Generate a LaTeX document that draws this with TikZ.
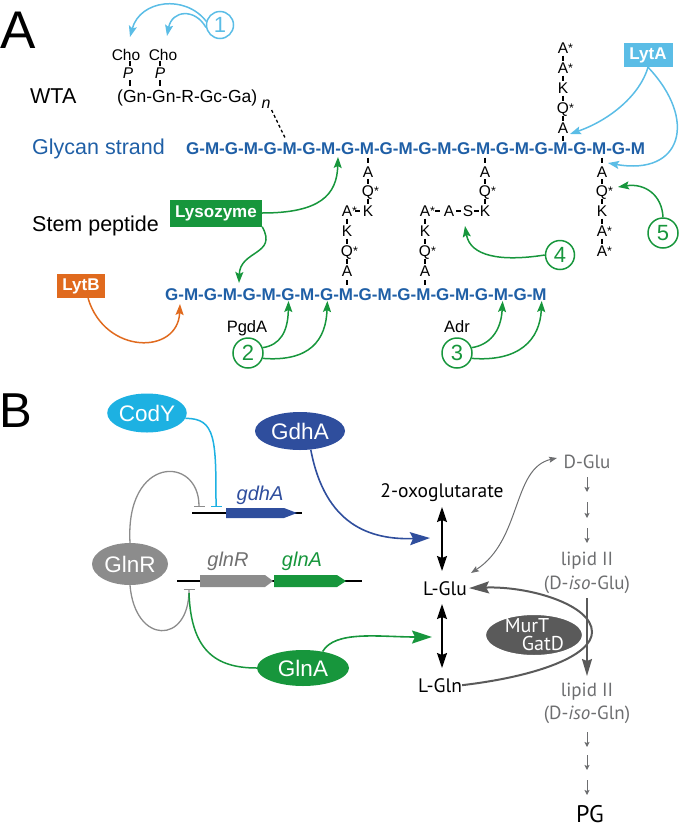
\documentclass[tikz,border=0pt]{standalone}
\usepackage{fontspec}
\setmainfont{Liberation Sans}
\newfontfamily\ptsans{PT Sans}
\usetikzlibrary{arrows.meta,calc,shapes.geometric}
\definecolor{cLB}{HTML}{5BBDE6}
\definecolor{cG}{HTML}{17963C}
\definecolor{cOr}{HTML}{E06A1E}
\definecolor{cBl}{HTML}{1F5FA6}
\definecolor{cCy}{HTML}{1DB1E2}
\definecolor{cDB}{HTML}{2F4E9D}
\definecolor{cGr}{HTML}{8C8C8C}
\definecolor{cGt}{HTML}{707070}
\definecolor{cDG}{HTML}{5A5A5A}
\definecolor{cTx}{HTML}{6D6E70}
\newcommand\rs[1]{#1\rlap{\fontsize{12.5}{12.5}\selectfont\raisebox{1pt}{*}}}
\newcommand\pepV[2]{\draw[tick] ($(#1)!0.5!(#2)$) ++(0,-2.5) -- ++(0,5);}
\newcommand\pepH[2]{\draw[tick] ($(#1)!0.5!(#2)$) ++(-2.5,0) -- ++(5,0);}
\begin{document}
\begin{tikzpicture}[x=1pt,y=-1pt,
  gly/.style={font=\fontsize{17}{17}\selectfont\bfseries, text=cBl, inner sep=0pt, text height=12.2pt, text depth=0pt},
  res/.style={font=\fontsize{15.5}{15.5}\selectfont, inner sep=0pt, text height=11.1pt, text depth=0pt},
  tick/.style={line width=1.3pt},
  arr/.style={line width=1.5pt, -{Stealth[length=11pt,width=8pt,inset=2pt]}},
  num/.style={circle, draw, line width=1.5pt, minimum size=30pt, inner sep=0pt, font=\fontsize{22}{22}\selectfont},
  enz/.style={font=\fontsize{17}{17}\selectfont\bfseries, text=white, inner sep=0pt, minimum height=24pt},
  lab/.style={font=\fontsize{21.5}{21.5}\selectfont, inner sep=0pt, anchor=base west},
  ell/.style={ellipse, inner sep=0pt, text=white, font=\fontsize{22.5}{22.5}\selectfont},
  gn/.style={font=\fontsize{20}{20}\selectfont\itshape, inner sep=0pt, anchor=base},
  mt/.style={font=\ptsans\fontsize{19.5}{19.5}\selectfont, inner sep=0pt, anchor=base},
  gt/.style={font=\ptsans\fontsize{19}{19}\selectfont, text=cTx, inner sep=0pt, anchor=base},
  bigarr/.style={line width=1.6pt, -{Stealth[length=20pt,width=13pt,inset=3pt]}},
  dbl/.style={line width=1.6pt, {Stealth[length=15pt,width=10pt,inset=2pt]}-{Stealth[length=15pt,width=10pt,inset=2pt]}},
  sarr/.style={line width=1pt, cTx, -{Stealth[length=5pt,width=5pt,inset=1pt]}},
  bar/.style={-{Bar[width=11pt,line width=1.4pt]}}
]
\useasboundingbox (0,0) rectangle (679,828);

% ---------------- Panel letters
\node[anchor=base west, inner sep=0pt, font=\fontsize{53}{53}\selectfont] (pA) at (0,48) {A};
\node[anchor=base west, inner sep=0pt, font=\fontsize{49}{49}\selectfont] (pB) at (-1,427) {B};

% ---------------- Labels
\node[lab] (lwta) at (30,103) {WTA};
\node[lab, text=cBl] (lgly) at (32,154) {Glycan strand};
\node[lab] (lstem) at (32,231) {Stem peptide};

% ---------------- WTA
\node[inner sep=0pt, anchor=base, font=\fontsize{15.5}{15.5}\selectfont] (cho1) at (126,60) {Cho};
\node[inner sep=0pt, anchor=base, font=\fontsize{15.5}{15.5}\selectfont] (cho2) at (163,60) {Cho};
\node[inner sep=0pt, anchor=base, font=\fontsize{15.5}{15.5}\selectfont\itshape] (p1) at (128,78) {P};
\node[inner sep=0pt, anchor=base, font=\fontsize{15.5}{15.5}\selectfont\itshape] (p2) at (160,78) {P};
\node[inner sep=0pt, anchor=base west, font=\fontsize{17.5}{17.5}\selectfont] (wta) at (117,102) {(Gn-Gn-R-Gc-Ga)};
\node[inner sep=0pt, anchor=base west, font=\fontsize{16}{16}\selectfont\itshape] (wn) at ($(wta.base east)+(4,6)$) {n};
\draw[tick] (p1.base) ++(2,-12) -- ++(0,-5);
\draw[tick] (p1.base) ++(2,2) -- ++(0,6);
\draw[tick] (p2.base) ++(0,-12) -- ++(0,-5);
\draw[tick] (p2.base) ++(0,2) -- ++(0,6);

% ---------------- Glycan strands
\node[gly, anchor=west] (tstrand) at (186,148) {G-M-G-M-G-M-G-M-G-M-G-M-G-M-G-M-G-M-G-M-G-M-G-M};
\node[gly, anchor=west] (bstrand) at (165,294) {G-M-G-M-G-M-G-M-G-M-G-M-G-M-G-M-G-M-G-M};
\foreach \k in {1,...,12}{
  \coordinate (tM\k) at ($(tstrand.west)+(26+\k*39-39,0)$);
}
\foreach \k in {1,...,10}{
  \coordinate (bM\k) at ($(bstrand.west)+(26+\k*39-39,0)$);
  \coordinate (bG\k) at ($(bstrand.west)+(6.6+\k*39-39,0)$);
}
\draw[line width=1.3pt, dash pattern=on 3pt off 2.5pt, shorten <=2pt, shorten >=10pt] (wn.south east) -- (tM3);

% ---------------- Peptides
% chain a
\node[res] (a1) at (368,172) {A};
\node[res] (a2) at (368,191) {\rs{Q}};
\node[res] (a3) at (368,211) {K};
\node[res] (a4) at (347,211) {\rs{A}};
\node[res] (a5) at (347,231) {K};
\node[res] (a6) at (347,251) {\rs{Q}};
\node[res] (a7) at (347,271) {A};
\pepV{tM5}{a1}\pepV{a1}{a2}\pepV{a2}{a3}\pepH{a4}{a3}
\pepV{a4}{a5}\pepV{a5}{a6}\pepV{a6}{a7}\pepV{a7}{bM5}
% chain b
\node[res] (b1) at (485,172) {A};
\node[res] (b2) at (485,191) {\rs{Q}};
\node[res] (b3) at (485,211) {K};
\node[res] (b4) at (468,211) {S};
\node[res] (b5) at (449,211) {A};
\node[res] (b6) at (425,211) {\rs{A}};
\node[res] (b7) at (425,231) {K};
\node[res] (b8) at (425,251) {\rs{Q}};
\node[res] (b9) at (425,271) {A};
\pepV{tM8}{b1}\pepV{b1}{b2}\pepV{b2}{b3}\pepH{b4}{b3}\pepH{b5}{b4}\pepH{b6}{b5}
\pepV{b6}{b7}\pepV{b7}{b8}\pepV{b8}{b9}\pepV{b9}{bM7}
% chain c
\node[res] (c1) at (602,172) {A};
\node[res] (c2) at (602,191) {\rs{Q}};
\node[res] (c3) at (602,211) {K};
\node[res] (c4) at (602,231) {\rs{A}};
\node[res] (c5) at (602,251) {\rs{A}};
\pepV{tM11}{c1}\pepV{c1}{c2}\pepV{c2}{c3}\pepV{c3}{c4}\pepV{c4}{c5}
% chain d
\node[res] (d1) at (563,128) {A};
\node[res] (d2) at (563,108) {\rs{Q}};
\node[res] (d3) at (563,88) {K};
\node[res] (d4) at (563,68) {\rs{A}};
\node[res] (d5) at (563,48) {\rs{A}};
\pepV{tM10}{d1}\pepV{d1}{d2}\pepV{d2}{d3}\pepV{d3}{d4}\pepV{d4}{d5}

% ---------------- Enzymes and numbers
\node[enz, fill=cG, minimum width=92pt, minimum height=27pt] (lys) at (216,213) {Lysozyme};
\node[enz, fill=cLB, minimum width=49pt] (lyta) at (648,55) {LytA};
\node[enz, fill=cOr, minimum width=48pt] (lytb) at (81,286) {LytB};
\node[inner sep=0pt, anchor=base, font=\fontsize{16.5}{16.5}\selectfont] (pgda) at (247,332) {PgdA};
\node[inner sep=0pt, anchor=base, font=\fontsize{16.5}{16.5}\selectfont] (adr) at (457,332) {Adr};
\node[num, draw=cLB, text=cLB, minimum size=27pt] (n1) at (220,25) {1};
\node[num, draw=cG, text=cG] (n2) at (248,353) {2};
\node[num, draw=cG, text=cG] (n3) at (457,353) {3};
\node[num, draw=cG, text=cG, minimum size=29pt] (n4) at (560,255) {4};
\node[num, draw=cG, text=cG] (n5) at (663,233) {5};

\coordinate (t1a) at (130,37);
\coordinate (t1b) at (167,36);
\coordinate (tla1) at (570,134);
\coordinate (tla2) at (608,163);
\coordinate (tlz1) at (338,157);
\coordinate (tlz2) at (239,283);
\coordinate (tlb) at (180,304);
\coordinate (t4) at (465,226);
\coordinate (t5) at (618,187);

\draw[arr, cLB] (n1.165) .. controls (185,-6) and (140,0) .. (t1a);
\draw[arr, cLB] (n1.190) .. controls (195,8) and (172,10) .. (t1b);
\draw[arr, cLB] (lyta.south) .. controls (640,95) and (610,120) .. (tla1);
\draw[arr, cLB] (lyta.south) .. controls (698,120) and (682,176) .. (tla2);
\draw[arr, cG] (lys.east) .. controls (320,213) and (337,195) .. (tlz1);
\draw[arr, cG] (lys.south east) .. controls (278,255) and (240,250) .. (tlz2);
\draw[arr, cOr] (lytb.-60) .. controls (105,355) and (178,355) .. (tlb);
\draw[arr, cG, shorten >=7pt] (n2.20) .. controls (280,345) and (288,332) .. (bG4);
\draw[arr, cG, shorten >=7pt] (n2.-20) .. controls (310,362) and (326,340) .. (bG5);
\draw[arr, cG, shorten >=7pt] (n3.20) .. controls (489,345) and (501,332) .. (bM9);
\draw[arr, cG, shorten >=7pt] (n3.-20) .. controls (519,362) and (540,340) .. (bM10);
\draw[arr, cG] (n4.west) .. controls (500,262) and (470,256) .. (t4);
\draw[arr, cG] (n5.north) .. controls (662,195) and (645,183) .. (t5);

% ================= Panel B
\node[ell, fill=cCy, minimum width=74pt, minimum height=39pt] (cody) at (147,413) {CodY};
\node[ell, fill=cDB, minimum width=90pt, minimum height=38pt] (gdha) at (300,431) {GdhA};
\node[ell, fill=cGr, minimum width=76pt, minimum height=42pt] (glnr) at (130,564) {GlnR};
\node[ell, fill=cG, minimum width=92pt, minimum height=36pt] (glna) at (303,668) {GlnA};

% genes
\coordinate (gdL) at (192,513);
\coordinate (gdR) at (302,513);
\draw[line width=1.3pt] (gdL) -- (gdR);
\fill[cDB] (226,508) -- (284,508) -- (297,513) -- (284,518) -- (226,518) -- cycle;
\node[gn, text=cDB] (tgdha) at (260,500) {gdhA};
\coordinate (glL) at (177,581);
\coordinate (glR) at (362,581);
\draw[line width=1.3pt] (glL) -- (glR);
\fill[cGr] (200,575) -- (265,575) -- (273,581) -- (265,587) -- (200,587) -- cycle;
\fill[cG] (274,575) -- (337,575) -- (346,581) -- (337,587) -- (274,587) -- cycle;
\node[gn, text=cGt] (tglnr) at (228,566) {glnR};
\node[gn, text=cG] (tglna) at (302,566) {glnA};

\coordinate (barG) at (199,507);
\coordinate (barC) at (216,507);
\coordinate (barR) at (189,589);
\coordinate (grS) at (189,593);
\draw[line width=1.3pt, cGr, bar] (glnr.north) .. controls (125,455) and (199,455) .. (barG);
\draw[line width=1.5pt, cCy, bar] (cody.-8) .. controls (216,418) and (216,440) .. (barC);
\draw[line width=1.3pt, cGr, bar] (glnr.south) .. controls (135,645) and (189,645) .. (barR);
\draw[line width=1.5pt, cG] (grS) .. controls (191,650) and (215,668) .. (glna.west);

% metabolites
\node[mt] (oxo) at (442,497) {2-oxoglutarate};
\node[mt] (lglu) at (445,595) {L-Glu};
\node[mt] (lgln) at (440,692) {L-Gln};
\coordinate (da1) at (442,507);
\coordinate (da2) at (442,571);
\coordinate (db1) at (442,604);
\coordinate (db2) at (442,668);
\draw[dbl] (da1) -- (da2);
\draw[dbl] (db1) -- (db2);
\coordinate (gdT) at (430,538);
\coordinate (glT) at (432,637);
\draw[bigarr, cDB] (gdha.-60) .. controls (325,525) and (370,540) .. (gdT);
\draw[bigarr, cG] (glna.40) .. controls (335,630) and (380,637) .. (glT);

\node[gt] (dglu) at (587,468) {D-Glu};
\node[gt] (lip1) at (587,565) {lipid II};
\node[gt] (iso1) at (587,589) {(D-\textit{iso}-Glu)};
\node[gt] (lip2) at (587,696) {lipid II};
\node[gt] (iso2) at (587,719) {(D-\textit{iso}-Gln)};
\node[mt, font=\ptsans\fontsize{24}{24}\selectfont] (pg) at (590,822) {PG};

\foreach \ya/\yb in {477/492, 502/518, 528/543, 732/747, 755/770, 780/795}{
  \draw[sarr] (587,\ya) -- (587,\yb);
}

\coordinate (sc1) at (471,573);
\coordinate (sc2) at (557,458);
\draw[line width=1pt, cTx, {Stealth[length=8pt,width=6pt,inset=1.5pt]}-{Stealth[length=8pt,width=6pt,inset=1.5pt]}] (sc1) .. controls (522,540) and (512,468) .. (sc2);

\draw[line width=2pt, cDG, -{Stealth[length=20pt,width=12pt,inset=3pt]}, shorten >=2pt] (lgln.east) .. controls (540,676) and (592,655) .. (592,632) .. controls (592,605) and (530,586) .. (lglu.east);
\node[ell, fill=cDG, draw=white, line width=2pt, minimum width=98pt, minimum height=42pt] (murt) at (534,635) {};
\node[mt, text=white, font=\ptsans\fontsize{20}{20}\selectfont] (tmurt) at (527,632) {MurT};
\node[mt, text=white, font=\ptsans\fontsize{20}{20}\selectfont] (tgatd) at (543,650) {GatD};
\coordinate (vt1) at (587,598);
\coordinate (vt2) at (587,676);
\draw[line width=1.6pt, cDG, -{Stealth[length=17pt,width=10pt,inset=2pt]}] (vt1) -- (vt2);
\end{tikzpicture}
\end{document}
